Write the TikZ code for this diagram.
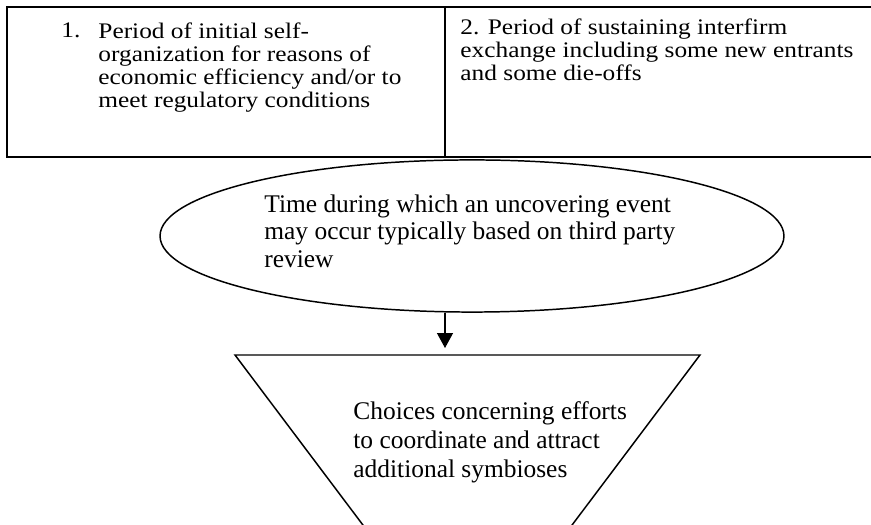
\documentclass[tikz,border=0pt]{standalone}
\usepackage{fontspec}
\setmainfont{Liberation Serif}[Ligatures=NoCommon]
\newfontfamily\cellfont{Liberation Serif}[FakeStretch=1.14, Ligatures=NoCommon]
\usepackage{tikz}
\usetikzlibrary{shapes,arrows,positioning,calc,arrows.meta}

\begin{document}
\begin{tikzpicture}[
    x=0.472pt, y=-0.472pt,
    every node/.style={font=\fontsize{12}{13.8}\selectfont, inner sep=0pt, align=left, anchor=north west},
    celltext/.style={font=\cellfont\fontsize{10.5}{11}\selectfont},
    shapetext/.style={font=\fontsize{12}{13}\selectfont},
    rule/.style={line width=0.9pt},
    oval/.style={ellipse, draw, line width=0.7pt, minimum width=294.5pt, minimum height=71.8pt, anchor=center},
    link/.style={line width=0.5pt, -{Triangle[length=7pt, width=7.5pt]}, shorten >=3.3pt}
]
    \useasboundingbox (0,0) rectangle (871,525);
    \clip (0,0) rectangle (871,525);

    % table row
    \draw[rule] (880,7) -- (7,7) -- (7,157) -- (880,157);
    \draw[rule] (445,7) -- (445,157);
    \node[celltext] (num1) at (61,22) {1.};
    \node[celltext] (cell1) at (98,22) {Period of initial self-\\organization for reasons of\\economic efficiency and/or to\\meet regulatory conditions};
    \node[celltext] (cell2) at (460,18) {2. Period of sustaining interfirm\\exchange including some new entrants\\and some die-offs};

    % uncovering event
    \node[oval] (uncover) at (472,236) {};
    \node[shapetext] (uncovertext) at (264,194) {Time during which an uncovering event\\may occur typically based on third party\\review};

    % choices
    \coordinate (choicel) at (235,355);
    \coordinate (choicer) at (700,355);
    \coordinate (choiceb) at (467.5,664);
    \draw[line width=0.7pt] (choicel) -- (choicer) -- (choiceb) -- cycle;
    \node (choicetext) at (353,401) {Choices concerning efforts\\to coordinate and attract\\additional symbioses};

    \coordinate (choicetop) at (445,355);
    \draw[link] (choicetop |- uncover.south) -- (choicetop);
\end{tikzpicture}
\end{document}
